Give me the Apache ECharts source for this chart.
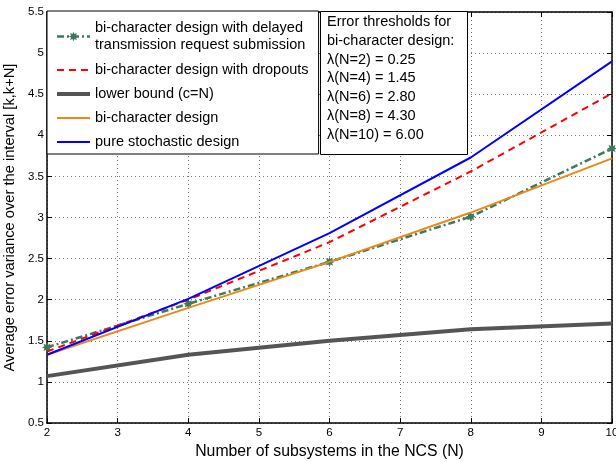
<!DOCTYPE html>
<html>
<head>
<meta charset="utf-8">
<script src="https://cdn.jsdelivr.net/npm/echarts@6/dist/echarts.min.js"></script>
<style>
    html, body {
        margin: 0;
        padding: 0;
        background: #fff;
    }

    #chart {
        width: 616px;
        height: 462px;
    }
</style>
</head>
<body>
<div id="chart"></div>
<script>
    // data
    var subsystems = [2, 4, 6, 8, 10];
    var delayedValues = [1.42, 1.95, 2.46, 3.01, 3.84];
    var dropoutValues = [1.37, 2.00, 2.70, 3.56, 4.51];
    var lowerBoundValues = [1.07, 1.33, 1.50, 1.64, 1.71];
    var biCharValues = [1.33, 1.90, 2.46, 3.06, 3.72];
    var pureValues = [1.33, 2.01, 2.81, 3.73, 4.90];

    var seriesNames = [
        'bi-character design with delayed\ntransmission request submission',
        'bi-character design with dropouts',
        'lower bound (c=N)',
        'bi-character design',
        'pure stochastic design'
    ];
    var thresholdLines = [
        'Error thresholds for',
        'bi-character design:',
        'λ(N=2) = 0.25',
        'λ(N=4) = 1.45',
        'λ(N=6) = 2.80',
        'λ(N=8) = 4.30',
        'λ(N=10) = 6.00'
    ];

    var FONT = 'Liberation Sans, Arial, Helvetica, sans-serif';
    //8-point star for the delayed series
    var STAR = 'path://M10,0L5.08,2.1L7.07,7.07L2.1,5.08L0,10L-2.1,5.08L-7.07,7.07L-5.08,2.1L-10,0L-5.08,-2.1L-7.07,-7.07L-2.1,-5.08L0,-10L2.1,-5.08L7.07,-7.07L5.08,-2.1Z';
    var lineWidths = [2.5, 2, 4, 2, 2];

    function pairs(ys) {
        var out = [];
        for (var i = 0; i < subsystems.length; i++) {
            out.push([subsystems[i], ys[i]]);
        }
        return out;
    }

    var frameAxis = {
        type: 'value',
        axisLine: { show: true, onZero: false, lineStyle: { color: '#000', width: 1.5 } },
        axisTick: { show: true, inside: true, length: 5, lineStyle: { color: '#000' } },
        axisLabel: { show: false },
        splitLine: { show: false }
    };

    // legend entries: only the first one keeps its marker
    var legendData = seriesNames.map(function (n, i) {
        var item = { name: n, lineStyle: { width: lineWidths[i] } };
        if (i === 0) {
            item.textStyle = { lineHeight: 17.5 };
        } else {
            item.itemStyle = { opacity: 0 };
        }
        return item;
    });

    var chart = echarts.init(document.getElementById('chart'), null, { renderer: 'canvas' });
    var option = {
        backgroundColor: '#fff',
        animation: false,
        textStyle: { fontFamily: FONT },
        grid: { left: 47, right: 4, top: 12, bottom: 39, outerBoundsMode: 'none', containLabel: false },
        legend: {
            orient: 'vertical',
            left: 47,
            top: 11,
            padding: [8, 10, 4, 8],
            itemWidth: 33,
            itemHeight: 12,
            itemGap: 8,
            backgroundColor: '#fff',
            borderColor: '#000',
            borderWidth: 1,
            textStyle: { fontFamily: FONT, fontSize: 14.5, color: '#000', lineHeight: 16 },
            data: legendData
        },
        xAxis: [{
            type: 'value',
            min: 2,
            max: 10,
            interval: 1,
            name: 'Number of subsystems in the NCS (N)',
            nameLocation: 'middle',
            nameGap: 18,
            nameTextStyle: { fontSize: 15.8, color: '#000', fontFamily: FONT },
            axisLine: { show: true, onZero: false, lineStyle: { color: '#000', width: 1.5 } },
            axisTick: { inside: true, length: 5, lineStyle: { color: '#000' } },
            axisLabel: { fontSize: 11.5, color: '#000', margin: 4, fontFamily: FONT },
            splitLine: { show: true, lineStyle: { color: '#777', type: [1, 3], width: 1 } }
        }, Object.assign({}, frameAxis, { position: 'top', min: 2, max: 10, interval: 1 })],
        yAxis: [{
            type: 'value',
            min: 0.5,
            max: 5.5,
            interval: 0.5,
            name: 'Average error variance over the interval [k,k+N]',
            nameLocation: 'middle',
            nameGap: 25,
            nameTextStyle: { fontSize: 14.7, color: '#000', fontFamily: FONT },
            axisLine: { show: true, onZero: false, lineStyle: { color: '#000', width: 1.5 } },
            axisTick: { inside: true, length: 5, lineStyle: { color: '#000' } },
            axisLabel: { fontSize: 11.5, color: '#000', margin: 3, fontFamily: FONT },
            splitLine: { show: true, lineStyle: { color: '#777', type: [1, 3], width: 1 } }
        }, Object.assign({}, frameAxis, { position: 'right', min: 0.5, max: 5.5, interval: 0.5 })],
        series: [{
            name: seriesNames[0],
            type: 'line',
            data: pairs(delayedValues),
            symbol: STAR,
            symbolSize: 10,
            itemStyle: { color: '#3d7a5c' },
            lineStyle: { color: '#3d7a5c', width: lineWidths[0], type: [7, 3, 2, 3] },
            z: 2
        }, {
            name: seriesNames[1],
            type: 'line',
            data: pairs(dropoutValues),
            symbol: 'none',
            itemStyle: { color: '#ff0000' },
            lineStyle: { color: '#ff0000', width: lineWidths[1], type: [7, 5] },
            z: 3
        }, {
            name: seriesNames[2],
            type: 'line',
            data: pairs(lowerBoundValues),
            symbol: 'none',
            itemStyle: { color: '#555' },
            lineStyle: { color: '#555', width: lineWidths[2] },
            z: 2
        }, {
            name: seriesNames[3],
            type: 'line',
            data: pairs(biCharValues),
            symbol: 'none',
            itemStyle: { color: '#e8891a' },
            lineStyle: { color: '#e8891a', width: lineWidths[3] },
            z: 3
        }, {
            name: seriesNames[4],
            type: 'line',
            data: pairs(pureValues),
            symbol: 'none',
            itemStyle: { color: '#0000ff' },
            lineStyle: { color: '#0000ff', width: lineWidths[4] },
            z: 4
        }],
        //threshold note box
        graphic: [{
            type: 'rect',
            left: 320,
            top: 11,
            shape: { width: 147, height: 143 },
            style: { fill: '#fff', stroke: '#000', lineWidth: 1 },
            z: 100
        }, {
            type: 'text',
            left: 327,
            top: 13,
            style: {
                text: thresholdLines.join('\n'),
                font: '14.5px ' + FONT,
                lineHeight: 18.7,
                fill: '#000'
            },
            z: 101
        }]
    };
    chart.setOption(option);
</script>
</body>
</html>
